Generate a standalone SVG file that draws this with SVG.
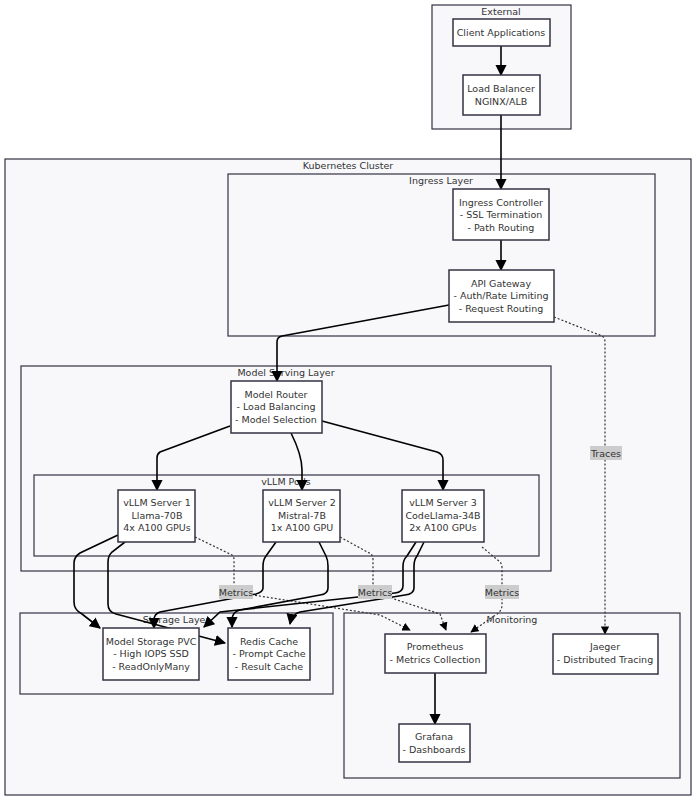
<svg xmlns="http://www.w3.org/2000/svg" width="698" height="800" viewBox="0 0 698 800">
<defs>
<style>
.c{fill:#f8f8fb;stroke:#333344;stroke-width:1.2}
.n rect{fill:#fff;stroke:#333344;stroke-width:1.5}
text{font-family:"DejaVu Sans","Liberation Sans",sans-serif;font-size:9.5px;fill:#333;text-anchor:middle}
.e{fill:none;stroke:#000;stroke-width:1.6;marker-end:url(#a)}
.d{fill:none;stroke:#333;stroke-width:1.2;stroke-dasharray:2,2;marker-end:url(#a)}
.lb{fill:#ccc}
</style>
<marker id="a" viewBox="0 0 10 10" refX="9" refY="5" markerWidth="7" markerHeight="7" orient="auto"><path d="M0,0L10,5L0,10z" fill="#000"/></marker>
</defs>
<rect width="698" height="800" fill="#fff"/>
<g id="clusters">
<rect class="c" x="432" y="5" width="139" height="124"/><text x="501" y="15">External</text>
<rect class="c" x="5" y="159" width="686" height="636"/><text x="348" y="169">Kubernetes Cluster</text>
<rect class="c" x="228" y="174" width="427" height="162"/><text x="441" y="184">Ingress Layer</text>
<rect class="c" x="21" y="366" width="530" height="205"/><text x="286" y="376">Model Serving Layer</text>
<rect class="c" x="34" y="475" width="505" height="81"/><text x="286" y="485">vLLM Pods</text>
<rect class="c" x="20" y="613" width="313" height="81"/><text x="176" y="623">Storage Layer</text>
<rect class="c" x="344" y="613" width="336" height="165"/><text x="512" y="623">Monitoring</text>
</g>
<g id="connectors">
<path class="e" d="M501,46V75"/>
<path class="e" d="M501,115V189"/>
<path class="e" d="M501,240V270"/>
<path class="e" d="M449,305L282,336Q277,337 277,342V381"/>
<path class="d" d="M554,317L602,336Q605,338 605,342V634"/>
<path class="e" d="M230,426L160,452Q157,454 157,458V490"/>
<path class="e" d="M291,433Q302,455 302,470V490"/>
<path class="e" d="M322,421L437,452Q443,454 443,460V490"/>
<path class="e" d="M118,535L80,553Q74,557 74,563V602Q74,610 82,614L100,628"/>
<path class="e" d="M125,542L112,552Q108,556 108,562V604Q108,612 116,614L225,643"/>
<path class="d" d="M195,537L232,555Q234,556 234,560V592L380,615L410,630"/>
<path class="e" d="M276,542L266,556Q263,560 263,566V588Q263,592 256,594L160,612Q154,614 154,620V628"/>
<path class="e" d="M319,542L326,556Q328,560 328,566V588Q328,594 320,595L240,610Q232,612 232,620V627"/>
<path class="d" d="M340,537L371,554Q373,556 373,560V592L440,614L446,630"/>
<path class="e" d="M416,542L407,556Q403,560 403,566V586Q403,592 395,593L220,612L204,627"/>
<path class="e" d="M424,542L417,556Q414,560 414,566V588Q414,594 405,595L300,612Q292,614 290,624"/>
<path class="d" d="M482,547L500,562Q502,564 502,568V605Q502,612 494,616L471,632"/>
<path class="e" d="M435,673V724"/>
<rect class="lb" x="590" y="446" width="32" height="14"/><text x="606" y="457">Traces</text>
<rect class="lb" x="219" y="585" width="34" height="14"/><text x="236" y="596">Metrics</text>
<rect class="lb" x="358" y="585" width="34" height="14"/><text x="375" y="596">Metrics</text>
<rect class="lb" x="485" y="585" width="34" height="14"/><text x="502" y="596">Metrics</text>
</g>
<g id="client" class="n"><rect x="453" y="19" width="97" height="27"/><text x="501" y="36">Client Applications</text></g>
<g id="lb" class="n"><rect x="463" y="75" width="77" height="40"/><text x="501" y="92">Load Balancer</text><text x="501" y="105">NGINX/ALB</text></g>
<g id="ingress" class="n"><rect x="453" y="189" width="96" height="51"/><text x="501" y="206">Ingress Controller</text><text x="501" y="218">- SSL Termination</text><text x="501" y="231">- Path Routing</text></g>
<g id="api" class="n"><rect x="449" y="270" width="105" height="52"/><text x="501" y="287">API Gateway</text><text x="501" y="299">- Auth/Rate Limiting</text><text x="501" y="312">- Request Routing</text></g>
<g id="router" class="n"><rect x="231" y="381" width="91" height="52"/><text x="276" y="398">Model Router</text><text x="276" y="410">- Load Balancing</text><text x="276" y="423">- Model Selection</text></g>
<g id="s1" class="n"><rect x="118" y="490" width="77" height="52"/><text x="157" y="506">vLLM Server 1</text><text x="157" y="519">Llama-70B</text><text x="157" y="531">4x A100 GPUs</text></g>
<g id="s2" class="n"><rect x="263" y="490" width="77" height="52"/><text x="302" y="506">vLLM Server 2</text><text x="302" y="519">Mistral-7B</text><text x="302" y="531">1x A100 GPU</text></g>
<g id="s3" class="n"><rect x="402" y="490" width="82" height="52"/><text x="443" y="506">vLLM Server 3</text><text x="443" y="519">CodeLlama-34B</text><text x="443" y="531">2x A100 GPUs</text></g>
<g id="pvc" class="n"><rect x="103" y="628" width="96" height="52"/><text x="151" y="645">Model Storage PVC</text><text x="151" y="657">- High IOPS SSD</text><text x="151" y="670">- ReadOnlyMany</text></g>
<g id="redis" class="n"><rect x="228" y="628" width="82" height="52"/><text x="269" y="645">Redis Cache</text><text x="269" y="657">- Prompt Cache</text><text x="269" y="670">- Result Cache</text></g>
<g id="prom" class="n"><rect x="385" y="634" width="101" height="39"/><text x="435" y="650">Prometheus</text><text x="435" y="663">- Metrics Collection</text></g>
<g id="jaeger" class="n"><rect x="553" y="634" width="105" height="40"/><text x="605" y="650">Jaeger</text><text x="605" y="663">- Distributed Tracing</text></g>
<g id="grafana" class="n"><rect x="399" y="724" width="71" height="38"/><text x="434" y="740">Grafana</text><text x="434" y="753">- Dashboards</text></g>
</svg>
